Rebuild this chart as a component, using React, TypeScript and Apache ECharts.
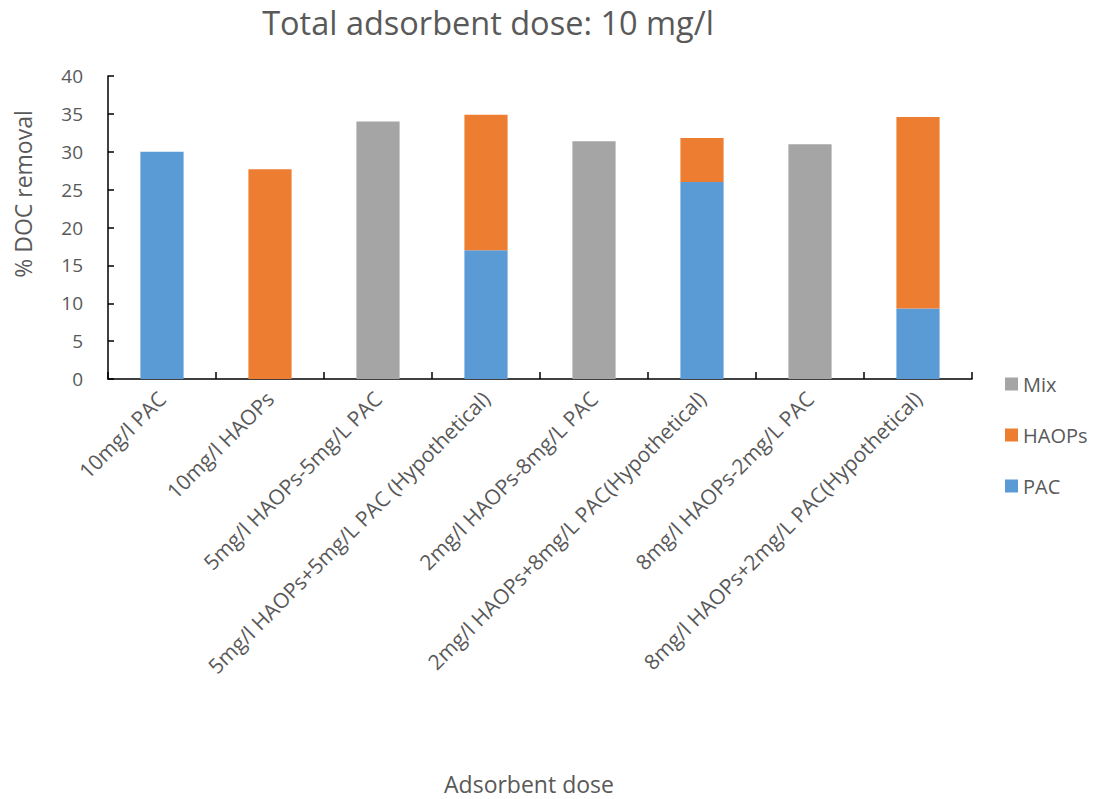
import React, { useEffect, useRef } from "react";
import * as echarts from "echarts";

const categories = [
  "10mg/l PAC",
  "10mg/l HAOPs",
  "5mg/l HAOPs-5mg/L PAC",
  "5mg/l HAOPs+5mg/L PAC (Hypothetical)",
  "2mg/l HAOPs-8mg/L PAC",
  "2mg/l HAOPs+8mg/L PAC(Hypothetical)",
  "8mg/l HAOPs-2mg/L PAC",
  "8mg/l HAOPs+2mg/L PAC(Hypothetical)",
];
const pacValues = [30, null, null, 17, null, 26, null, 9.3];
const haopsValues = [null, 27.7, null, 17.9, null, 5.8, null, 25.3];
const mixValues = [null, null, 34.0, null, 31.4, null, 31.0, null];
const yTicks = { min: 0, max: 40, interval: 5 };

const FONT = "'Open Sans', sans-serif";
const TXT = "#595959";

export default function App() {
  const ref = useRef<HTMLDivElement>(null);
  useEffect(() => {
    if (!ref.current) return;
    const chart = echarts.init(ref.current, null, { renderer: "svg" });
    chart.setOption({
      animation: false,
      backgroundColor: "#fff",
      textStyle: { fontFamily: FONT },
      grid: { left: 108, right: 121, top: 76, bottom: 420, containLabel: false },
      graphic: [
        {
          type: "text",
          x: 488,
          y: 22,
          style: {
            text: "Total adsorbent dose: 10 mg/l",
            fontFamily: FONT,
            fontSize: 32.5,
            fill: TXT,
            textAlign: "center",
            textVerticalAlign: "middle",
          },
        },
        {
          type: "text",
          x: 23,
          y: 194,
          rotation: Math.PI / 2,
          style: {
            text: "% DOC removal",
            fontFamily: FONT,
            fontSize: 23,
            fill: TXT,
            textAlign: "center",
            textVerticalAlign: "middle",
          },
        },
        {
          type: "text",
          x: 529,
          y: 784,
          style: {
            text: "Adsorbent dose",
            fontFamily: FONT,
            fontSize: 23,
            fill: TXT,
            textAlign: "center",
            textVerticalAlign: "middle",
          },
        },
      ],
      legend: {
        orient: "vertical",
        left: 1000,
        top: 367,
        data: ["Mix", "HAOPs", "PAC"],
        itemWidth: 13,
        itemHeight: 13,
        itemGap: 27,
        icon: "rect",
        textStyle: { fontFamily: FONT, fontSize: 20, color: TXT, lineHeight: 24 },
      },
      xAxis: {
        type: "category",
        data: categories,
        axisLine: { show: true, lineStyle: { color: "#000", width: 1.5 } },
        axisTick: { show: true, inside: true, length: 7, lineStyle: { color: "#000", width: 1.5 } },
        axisLabel: {
          rotate: 45,
          interval: 0,
          fontFamily: FONT,
          fontSize: 21,
          color: TXT,
          margin: 16,
        },
        splitLine: { show: false },
      },
      yAxis: {
        type: "value",
        min: yTicks.min,
        max: yTicks.max,
        interval: yTicks.interval,
        axisLine: { show: true, lineStyle: { color: "#000", width: 1.5 } },
        axisTick: { show: true, inside: true, length: 6, lineStyle: { color: "#000", width: 1.5 } },
        axisLabel: { fontFamily: FONT, fontSize: 19, color: TXT, margin: 25 },
        splitLine: { show: false },
      },
      series: [
        {
          name: "PAC",
          type: "bar",
          stack: "total",
          data: pacValues,
          barWidth: "40%",
          itemStyle: { color: "#5B9BD5" },
        },
        {
          name: "HAOPs",
          type: "bar",
          stack: "total",
          data: haopsValues,
          barWidth: "40%",
          itemStyle: { color: "#ED7D31" },
        },
        {
          name: "Mix",
          type: "bar",
          stack: "total",
          data: mixValues,
          barWidth: "40%",
          itemStyle: { color: "#A5A5A5" },
        },
      ],
    });
    return () => chart.dispose();
  }, []);
  return (
    <div
      ref={ref}
      style={{ position: "fixed", left: 0, top: 0, width: 1093, height: 799 }}
    />
  );
}
